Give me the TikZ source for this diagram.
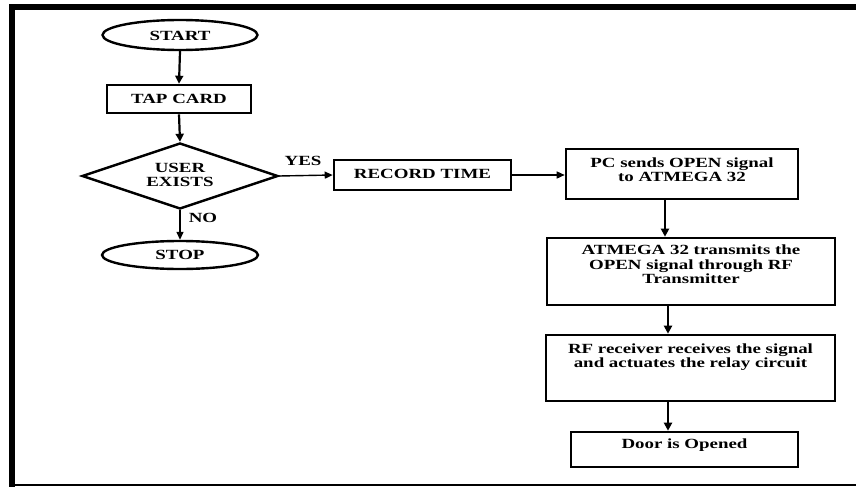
\documentclass[tikz,border=0pt]{standalone}
\usepackage{fontspec}
\setmainfont{Liberation Serif}[FakeStretch=1.35]
\usetikzlibrary{shapes.geometric,arrows.meta}
\begin{document}
\begin{tikzpicture}[x=1pt,y=-1pt,
  box/.style={draw,line width=2.6pt,inner sep=0pt},
  oval/.style={draw,ellipse,line width=2.4pt,inner sep=0pt},
  lbl/.style={font=\fontsize{14}{14.5}\selectfont\bfseries,align=center,inner sep=0pt},
  arr/.style={line width=2.2pt,-{Triangle[length=8pt,width=8pt]}},
  thin arr/.style={line width=1.4pt,-{Triangle[length=8pt,width=7pt]}}]
\useasboundingbox (0,0) rectangle (856,487);
% frame
\fill (9,4) rectangle (856,10);
\fill (9,4) rectangle (15,487);
\draw[line width=1.2pt] (9,485) -- (856,485);
% left column
\node[oval,minimum width=155,minimum height=30] (start) at (180,35) {};
\node[lbl] (startt) at (180,36) {START};
\node[box,minimum width=144,minimum height=28] (tap) at (179,99) {};
\node[lbl] (tapt) at (179,99) {TAP CARD};
\node[draw,diamond,line width=2.4pt,minimum width=196,minimum height=66,inner sep=0pt] (dec) at (180,176) {};
\node[lbl] (dect) at (180,175) {USER\\EXISTS};
\node[oval,minimum width=156,minimum height=28] (stop) at (180,255) {};
\node[lbl] (stopt) at (180,255) {STOP};
\node[lbl] (no) at (203,218) {NO};
\node[lbl] (yes) at (303,161) {YES};
% middle
\node[box,minimum width=177,minimum height=30] (rec) at (422.5,175) {};
\node[lbl] (rect) at (422.5,174) {RECORD TIME};
% right column
\node[box,minimum width=232,minimum height=50] (pc) at (682,174) {};
\node[lbl] (pct) at (682,169.5) {PC sends OPEN signal\\to ATMEGA 32};
\node[box,minimum width=288,minimum height=67] (atm) at (691,271.5) {};
\node[lbl] (atmt) at (691,264.5) {ATMEGA 32 transmits the\\OPEN signal through RF\\Transmitter};
\node[box,minimum width=289,minimum height=66] (rf) at (690.5,368) {};
\node[lbl] (rft) at (690.5,357) {RF receiver receives the signal\\and actuates the relay circuit};
\node[box,minimum width=227,minimum height=35] (door) at (684.5,449.5) {};
\node[lbl] (doort) at (684.5,445) {Door is Opened};
\coordinate (ax1) at (665,0);
\coordinate (ax2) at (668,0);
% connectors
\draw[arr] (start.south) -- (tap.north);
\draw[arr] (tap.south) -- (dec.north);
\draw[thin arr] (dec.south) -- (stop.north);
\draw[thin arr] (dec.east) -- (rec.west);
\draw[thin arr] (rec.east) -- (pc.west |- rec.east);
\draw[arr] (pc.south -| ax1) -- (atm.north -| ax1);
\draw[arr] (atm.south -| ax2) -- (rf.north -| ax2);
\draw[arr] (rf.south -| ax2) -- (door.north -| ax2);
\end{tikzpicture}
\end{document}
